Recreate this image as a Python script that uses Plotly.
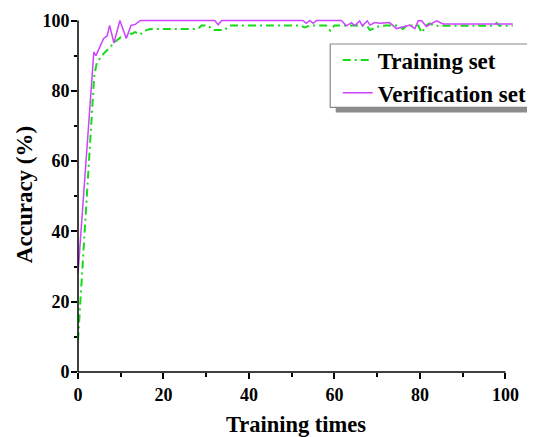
import plotly.graph_objects as go

# Verification set (purple, solid)
verif_x = [0, 3.7, 4.2, 6.0, 6.8, 7.4, 8.4, 9.8, 11.3, 12.4, 13.4, 14.6, 32.0, 32.8, 33.6,
           52.6, 53.4, 54.2, 55.0, 55.8, 61.6, 62.8, 64.0, 64.7, 65.9, 66.5, 67.7, 68.3,
           69.4, 70.6, 72.9, 74.5, 76.4, 77.6, 78.8, 79.6, 80.4, 81.5, 82.7, 83.9, 85.4, 101.7]
verif_y = [28, 91, 90, 94.9, 95.6, 98.6, 93.6, 100, 94.9, 98.6, 98.9, 100, 100, 98.8, 100,
           100, 99.2, 100, 99.2, 100, 100, 98.5, 99.4, 98.5, 99.9, 98.5, 99.9, 98.7,
           99.4, 99.2, 99.4, 97.7, 98.3, 98.7, 97.7, 99.9, 99.9, 98.3, 99.1, 99.9, 99.0, 99.0]

# Training set (green, dash-dot)
train_x = [0, 3.8, 4.4, 6.0, 7.2, 8.4, 9.9, 11.1, 11.9, 12.6, 13.3, 14.6, 15.4, 16.9, 28.0,
           28.9, 30.4, 31.6, 34.3, 35.5, 52.0, 53.0, 54.4, 58.0, 59.0, 60.0, 67.5, 68.3,
           70.3, 72.0, 75.0, 76.0, 77.0, 79.6, 80.4, 81.5, 82.3, 83.3, 92.5, 93.2, 94.0,
           97.2, 97.9, 98.6, 101.7]
train_y = [9, 84.4, 88, 90.6, 92, 93.6, 95.2, 95.4, 96.4, 96.2, 96.7, 96, 97, 97.6, 97.6,
           98.6, 98.6, 97.3, 97.3, 98.6, 98.6, 98.0, 98.6, 98.6, 97.1, 98.6, 98.6, 97.3,
           98.3, 98.6, 98.6, 97.6, 98.6, 98.6, 96.5, 98.6, 99.2, 98.5, 98.5, 98.9, 98.5,
           98.5, 99.3, 98.5, 98.5]

x_ticks = [0, 20, 40, 60, 80, 100]
y_ticks = [0, 20, 40, 60, 80, 100]
x_minor = [10, 30, 50, 70, 90]
y_minor = [10, 30, 50, 70, 90]

FONT = "Liberation Serif, Times New Roman, serif"
GREEN = "#16dc16"
PURPLE = "#cc44ff"

# page body has an 8px offset; figure sized so plot lands at window pixel positions
OFF = 8
W, H = 535 - OFF, 437 - OFF
L, R, T, B = 78.3 - OFF, 20.7, 16.5 - OFF, 65.3
PW, PH = W - L - R, H - T - B


def px_x(p):  # window pixel -> paper x
    return (p - OFF - L) / PW


def px_y(p):  # window pixel -> paper y
    return (H - B - (p - OFF)) / PH


fig = go.Figure()
fig.add_trace(go.Scatter(x=train_x, y=train_y, mode="lines", name="Training set",
                         line=dict(color=GREEN, width=2, dash="8px,4px,2px,4px")))
fig.add_trace(go.Scatter(x=verif_x, y=verif_y, mode="lines", name="Verification set",
                         line=dict(color=PURPLE, width=1.5)))

axis_common = dict(showgrid=False, zeroline=False, showline=False, automargin=False,
                   ticks="outside", ticklen=6, tickwidth=1.5, tickcolor="black",
                   tickfont=dict(family=FONT, size=18, color="black", weight="bold"))

fig.update_xaxes(range=[0, 102], tickvals=x_ticks, ticktext=[str(v) for v in x_ticks],
                 minor=dict(tickvals=x_minor, ticks="outside", ticklen=3.5, tickwidth=1.5,
                            tickcolor="black"),
                 title=dict(text="Training times", standoff=20,
                            font=dict(family=FONT, size=22.5, color="black", weight="bold")),
                 **axis_common)
fig.update_yaxes(range=[0, 101], tickvals=y_ticks, ticktext=[str(v) for v in y_ticks],
                 ticklabelstandoff=-2,
                 minor=dict(tickvals=y_minor, ticks="outside", ticklen=3.5, tickwidth=1.5,
                            tickcolor="black"),
                 title=dict(text="Accuracy (%)", standoff=3,
                            font=dict(family=FONT, size=23, color="black", weight="bold")),
                 **axis_common)

# axis lines (ending at the last tick like the original)
fig.add_shape(type="line", xref="x", yref="paper", x0=0, x1=100, y0=0, y1=0,
              line=dict(color="black", width=1.5))
fig.add_shape(type="line", xref="paper", yref="y", x0=0, x1=0, y0=0, y1=100,
              line=dict(color="black", width=1.5))

# legend shadow and box
fig.add_shape(type="rect", xref="paper", yref="paper", layer="above",
              x0=px_x(336), x1=px_x(545), y0=px_y(112), y1=px_y(50),
              fillcolor="#8c8c8c", line=dict(width=0))
fig.add_shape(type="rect", xref="paper", yref="paper", layer="above",
              x0=px_x(330.5), x1=px_x(533), y0=px_y(107), y1=px_y(43.5),
              fillcolor="white", line=dict(color="#888888", width=1.2))

fig.update_layout(
    width=W, height=H,
    margin=dict(l=L, r=R, t=T, b=B, autoexpand=False),
    paper_bgcolor="white", plot_bgcolor="white",
    showlegend=True,
    legend=dict(x=px_x(338), y=px_y(38), xanchor="left", yanchor="top",
                bgcolor="rgba(0,0,0,0)", borderwidth=0,
                font=dict(family=FONT, size=23, color="black", weight="bold"),
                tracegroupgap=0),
    font=dict(family=FONT),
)

fig.write_html("out.html")
